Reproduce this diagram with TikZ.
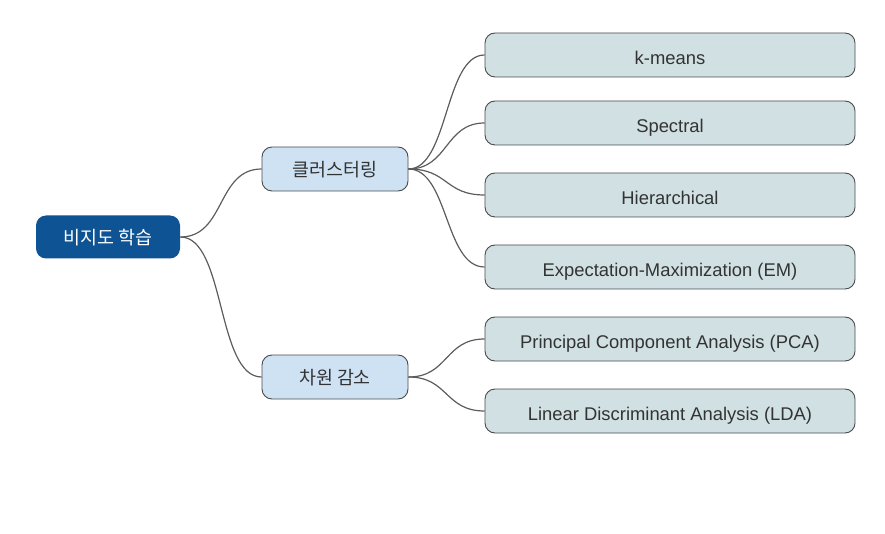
\documentclass[tikz,border=0pt]{standalone}
\usepackage{fontspec}
\setmainfont{Liberation Sans}
\newfontfamily\hangul{Noto Sans CJK KR}
\usepackage{tikz}
\definecolor{raiz}{HTML}{0E5394}
\definecolor{ramo}{HTML}{CFE2F3}
\definecolor{folha}{HTML}{D0E0E3}
\definecolor{borda}{HTML}{4A4A4A}
\definecolor{texto}{HTML}{333333}

\begin{document}
\begin{tikzpicture}[x=1pt, y=-1pt]
\tikzstyle{caixa}=[rectangle, rounded corners=10pt, draw=borda, line width=0.9pt, text=texto, font=\fontsize{18.4}{20}\selectfont, inner sep=0pt, text height=19pt, text depth=0pt]
\tikzstyle{raizbox}=[caixa, draw=none, fill=raiz, text=white, font=\fontsize{18.4}{20}\selectfont\hangul, text height=15pt, minimum width=144pt, minimum height=43pt]
\tikzstyle{ramobox}=[caixa, fill=ramo, font=\fontsize{18.4}{20}\selectfont\hangul, text height=15pt, minimum width=146pt, minimum height=44pt]
\tikzstyle{folhabox}=[caixa, fill=folha, minimum width=370pt, minimum height=44pt]
\tikzstyle{ligacao}=[draw=borda!90, line width=1.2pt]
\useasboundingbox (0,0) rectangle (885,534);
 \node[raizbox] (raiz) at (108,237) {비지도 학습};
 \node[ramobox] (agrup) at (335,169) {클러스터링};
 \node[ramobox] (reduc) at (335,377) {차원 감소};
 \node[folhabox] (kmeans) at (670,55) {k-means};
 \node[folhabox] (espec) at (670,123) {Spectral};
 \node[folhabox] (hier) at (670,195) {Hierarchical};
 \node[folhabox] (em) at (670,267) {Expectation-Maximization (EM)};
 \node[folhabox] (pca) at (670,339) {Principal Component Analysis (PCA)};
 \node[folhabox] (lda) at (670,411) {Linear Discriminant Analysis (LDA)};
 \foreach \filho in {agrup, reduc}
  \draw[ligacao] (raiz.east) .. controls +(45,0) and +(-45,0) .. (\filho.west);
 \foreach \filho in {kmeans, espec, hier, em}
  \draw[ligacao] (agrup.east) .. controls +(40,0) and +(-40,0) .. (\filho.west);
 \foreach \filho in {pca, lda}
  \draw[ligacao] (reduc.east) .. controls +(40,0) and +(-40,0) .. (\filho.west);
\end{tikzpicture}
\end{document}
